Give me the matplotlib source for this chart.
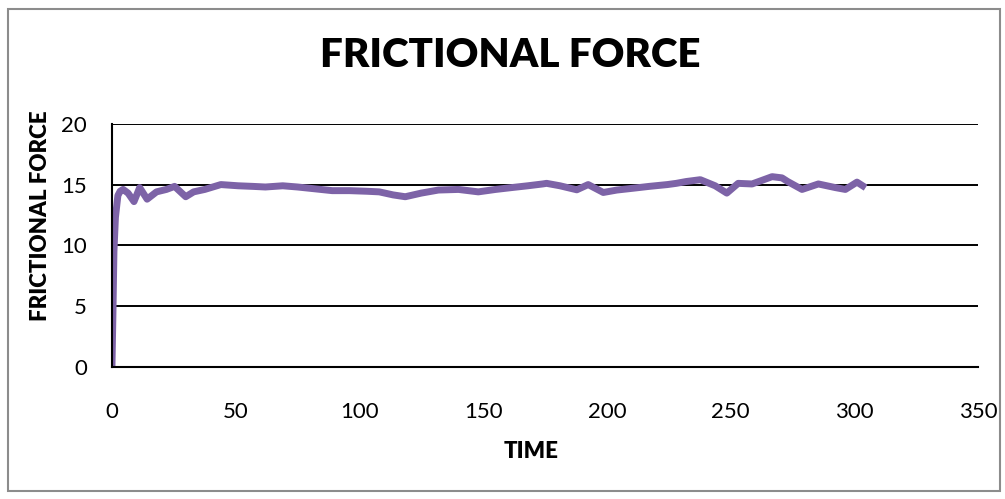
import numpy as np
import matplotlib.pyplot as plt
from matplotlib.patches import Rectangle

# values
time = [0, 0.4, 0.8, 1.4, 2.4, 3.3, 4.5, 6.5, 8.9, 11.2, 14.2, 18, 22, 25.3,
        29.8, 33, 37.5, 44, 51, 57, 62, 69, 75, 82, 89, 96, 103, 108, 113.6,
        118.5, 125, 131.9, 140, 148, 155, 161.8, 168, 174, 175.6, 181,
        187.8, 192.4, 198.5, 204, 210.6, 217, 224.4, 228, 232, 237.7, 243.7,
        248.4, 253, 258.6, 262, 266.7, 270.7, 273, 278.8, 285.4, 292.3,
        296.3, 301, 303.3]
force = [0, 4.5, 9.5, 12.3, 14.1, 14.45, 14.6, 14.3, 13.6, 14.75, 13.8,
         14.4, 14.6, 14.85, 14.0, 14.4, 14.6, 15.0, 14.9, 14.85, 14.8, 14.9,
         14.8, 14.65, 14.5, 14.5, 14.45, 14.4, 14.15, 14.0, 14.3, 14.55,
         14.6, 14.4, 14.6, 14.76, 14.9, 15.05, 15.1, 14.9, 14.57, 15.0,
         14.35, 14.55, 14.7, 14.85, 15.0, 15.1, 15.25, 15.4, 14.9, 14.3,
         15.1, 15.05, 15.3, 15.65, 15.55, 15.25, 14.6, 15.05, 14.75, 14.6,
         15.2, 14.9]

xticks = [0, 50, 100, 150, 200, 250, 300, 350]
yticks = [0, 5, 10, 15, 20]

plt.rcParams['font.family'] = ['Lato', 'DejaVu Sans']

fig = plt.figure(figsize=(10.05, 4.99), dpi=100)
ax = fig.add_axes([0.1114, 0.2645, 0.862, 0.4875])

ax.plot(time, force, color='#7D63A7', linewidth=5, solid_joinstyle='round')

ax.set_xlim(0, 350)
ax.set_ylim(0, 20)
ax.set_xticks(xticks)
ax.set_yticks(yticks)
ax.tick_params(length=0, labelsize=16)
ax.tick_params(axis='x', pad=25)
ax.tick_params(axis='y', pad=18)
ax.grid(axis='y', color='black', linewidth=1.4)
ax.set_axisbelow(True)
for side in ['top', 'right']:
    ax.spines[side].set_visible(False)
for side in ['left', 'bottom']:
    ax.spines[side].set_linewidth(1.5)
    ax.spines[side].set_color('black')

ax.set_xlabel('TIME', fontsize=16, fontweight='heavy')
ax.set_ylabel('FRICTIONAL FORCE', fontsize=16, fontweight='heavy')
ax.xaxis.set_label_coords(0.484, -0.305)
ax.yaxis.set_label_coords(-0.07, 0.62)
fig.text(0.508, 0.888, 'FRICTIONAL FORCE', fontsize=29, fontweight='heavy',
         ha='center', va='center')

# chart border
fig.patches.append(Rectangle((8 / 1005, 8 / 499), 992 / 1005, 482 / 499,
                             transform=fig.transFigure, fill=False,
                             edgecolor='#8c8c8c', linewidth=1.5))

fig.savefig('out.png', dpi=100)
